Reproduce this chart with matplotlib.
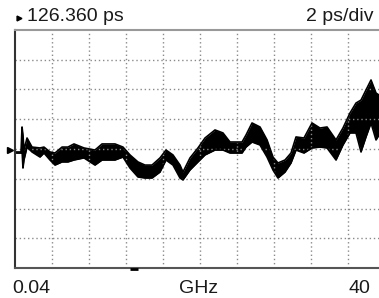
import matplotlib
matplotlib.use("Agg")
import matplotlib.pyplot as plt
from matplotlib.lines import Line2D

# ---- data ----
freq_ghz = [0.15, 0.69, 0.80, 0.90, 1.01, 1.34, 1.88, 2.74, 3.17, 3.82, 4.36, 5.12,
            5.76, 6.41, 7.49, 8.68, 9.44, 10.08, 10.84, 11.70, 12.46, 13.32, 14.08,
            14.84, 15.70, 16.35, 17.10, 17.86, 18.18, 18.94, 19.80, 20.56, 21.64,
            22.50, 23.26, 23.91, 24.56, 24.99, 25.64, 26.50, 27.26, 27.90, 28.44,
            29.20, 29.85, 30.39, 31.25, 32.12, 32.98, 33.74, 34.71, 35.46, 36.22,
            36.87, 37.41, 37.95, 38.49, 39.03, 39.35]
delay_upper_ps = [126.16, 126.16, 127.84, 127.30, 126.29, 127.10, 126.49, 126.43, 126.49,
                  126.16, 126.09, 126.49, 126.49, 126.70, 126.43, 126.29, 126.70, 126.70,
                  126.70, 126.49, 125.96, 125.49, 125.28, 125.28, 125.76, 126.29, 125.96,
                  125.28, 124.81, 125.76, 126.43, 127.10, 127.64, 127.44, 126.83, 126.83,
                  126.83, 127.30, 128.11, 127.84, 126.97, 125.82, 125.42, 125.62, 126.09,
                  127.17, 127.10, 128.11, 127.77, 127.84, 126.97, 127.77, 128.78, 129.45,
                  129.65, 130.33, 131.00, 130.12, 129.99]
delay_lower_ps = [126.09, 126.09, 126.29, 125.08, 125.62, 126.49, 126.16, 125.82, 126.09,
                  125.62, 125.28, 125.49, 125.49, 125.62, 125.76, 125.28, 125.62, 125.62,
                  125.62, 125.82, 125.08, 124.48, 124.41, 124.41, 124.81, 125.62, 125.28,
                  124.41, 124.28, 124.95, 125.49, 125.96, 126.29, 126.29, 126.09, 126.09,
                  126.09, 126.49, 126.83, 126.63, 125.82, 124.95, 124.41, 124.81, 125.42,
                  126.29, 126.09, 126.43, 126.49, 126.43, 125.62, 126.63, 127.44, 127.44,
                  126.16, 127.17, 128.11, 126.97, 127.30]

ref_ps = 126.360
ps_per_div = 2
f_start, f_stop = 0.04, 40
ref_label = "126.360 ps"
scale_label = "2 ps/div"
start_label = "0.04"
stop_label = "40"
unit_label = "GHz"

# ---- figure ----
W, H = 379, 298
fig = plt.figure(figsize=(W / 100, H / 100), dpi=100)
fig.patch.set_facecolor("white")

def fx(px):
    return px / W

def fy(py):
    return 1 - py / H

ax = fig.add_axes([fx(15), fy(268), 370 / W, 238 / H])
ax.set_xlim(f_start, f_stop)
ax.set_ylim(ref_ps - 4 * ps_per_div, ref_ps + 4 * ps_per_div)

xdiv = (f_stop - f_start) / 10
ax.set_xticks([f_start + i * xdiv for i in range(1, 10)])
ax.set_yticks([ref_ps + (i - 4) * ps_per_div for i in range(1, 8)])
ax.tick_params(length=0, labelbottom=False, labelleft=False)
ax.grid(True, color="#8a8a8a", linestyle=(0, (1, 2)), linewidth=1.0)

ax.spines["right"].set_visible(False)
ax.spines["left"].set_color("#333333")
ax.spines["left"].set_linewidth(1.5)
ax.spines["bottom"].set_color("#555555")
ax.spines["bottom"].set_linewidth(1.5)
ax.spines["top"].set_color("#999999")
ax.spines["top"].set_linewidth(1.5)

ax.fill_between(freq_ghz, delay_lower_ps, delay_upper_ps, color="black", linewidth=0)
ax.plot(freq_ghz, delay_upper_ps, color="black", linewidth=1.2)
ax.plot(freq_ghz, delay_lower_ps, color="black", linewidth=1.2)

# markers
fig.add_artist(Line2D([fx(10)], [fy(150)], marker=">", markersize=5, color="black",
                      linestyle="none"))
fig.add_artist(Line2D([fx(19)], [fy(18)], marker=">", markersize=3.5, color="black",
                      linestyle="none"))
fig.add_artist(Line2D([fx(130), fx(138)], [fy(269), fy(269)], color="black",
                      linewidth=2, solid_capstyle="butt"))

# texts
tc = "#1a1a1a"
fs = 14
fig.text(fx(27), fy(21), ref_label, fontsize=fs, color=tc, ha="left", va="baseline",
         family="Liberation Sans")
fig.text(fx(373), fy(21), scale_label, fontsize=fs, color=tc, ha="right", va="baseline",
         family="Liberation Sans")
fig.text(fx(12), fy(293), start_label, fontsize=fs, color=tc, ha="left", va="baseline",
         family="Liberation Sans")
fig.text(fx(199), fy(293), unit_label, fontsize=fs, color=tc, ha="center", va="baseline",
         family="Liberation Sans")
fig.text(fx(370), fy(293), stop_label, fontsize=fs, color=tc, ha="right", va="baseline",
         family="Liberation Sans")

fig.savefig("out.png", dpi=100)
